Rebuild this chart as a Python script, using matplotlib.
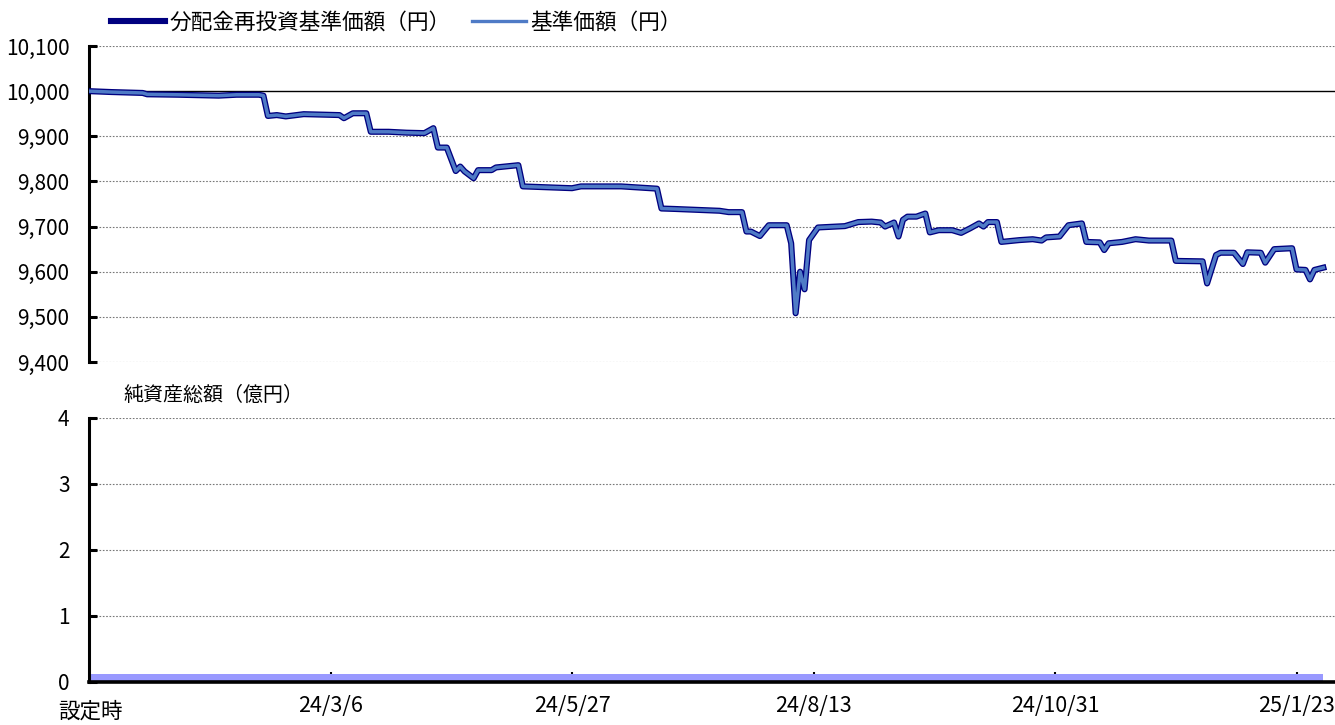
import matplotlib
matplotlib.use("Agg")
import matplotlib.pyplot as plt
from matplotlib.lines import Line2D

plt.rcParams["font.family"] = ["Noto Sans CJK JP", "DejaVu Sans"]

# 営業日インデックス（設定時=0）と基準価額の折れ点
day_idx = [0, 5, 12, 13, 20, 29, 33, 38, 39, 40, 42, 44, 48, 56, 57, 59, 62, 63,
           67, 71, 75, 77, 78, 80, 82, 83, 84, 86, 87, 90, 91, 96, 97, 108, 110,
           119, 127, 128, 131, 141, 143, 146, 147, 148, 150, 152, 156, 157, 158,
           159, 160, 161, 163, 169, 172, 175, 177, 178, 180, 181, 182, 183, 185,
           187, 188, 190, 193, 195, 197, 199, 200, 201, 203, 204, 208, 211, 213,
           214, 217, 219, 222, 223, 226, 227, 228, 231, 234, 237, 242, 243, 249,
           250, 252, 253, 256, 258, 259, 262, 263, 265, 269, 270, 272, 273, 274,
           276]
nav = [10000, 9998, 9996, 9993, 9992, 9990, 9992, 9992, 9990, 9945, 9947, 9944,
       9949, 9947, 9940, 9951, 9951, 9910, 9910, 9908, 9907, 9918, 9875, 9875,
       9823, 9833, 9822, 9807, 9825, 9825, 9831, 9836, 9789, 9785, 9789, 9789,
       9784, 9740, 9739, 9735, 9732, 9732, 9689, 9689, 9679, 9703, 9703, 9663,
       9508, 9600, 9561, 9670, 9698, 9701, 9710, 9711, 9709, 9700, 9709, 9678,
       9715, 9722, 9722, 9729, 9687, 9692, 9692, 9686, 9696, 9707, 9700, 9710,
       9710, 9666, 9670, 9672, 9669, 9676, 9678, 9703, 9707, 9666, 9665, 9648,
       9663, 9666, 9672, 9669, 9669, 9624, 9623, 9574, 9637, 9642, 9642, 9617,
       9643, 9642, 9620, 9650, 9652, 9605, 9604, 9583, 9604, 9609]
# 純資産総額（億円）
aum_idx = [0, 276]
aum = [0.12, 0.12]

tick_pos = [54, 108, 162, 216, 270]
tick_labels = ["24/3/6", "24/5/27", "24/8/13", "24/10/31", "25/1/23"]
x_max = 278.6

navy = "#000080"
blue = "#4F7BC6"
FS = 15

fig = plt.figure(figsize=(13.35, 7.25), dpi=100)
ax1 = fig.add_axes([89 / 1335, 1 - 362 / 725, 1 - 89 / 1335, 316 / 725])
ax2 = fig.add_axes([89 / 1335, 1 - 682 / 725, 1 - 89 / 1335, 264 / 725])

# 上段：基準価額
ax1.plot(day_idx, nav, color=navy, lw=4.4, solid_joinstyle="round", zorder=3)
ax1.plot(day_idx, nav, color=blue, lw=2.5, solid_joinstyle="round", zorder=4)
ax1.set_xlim(0, x_max)
ax1.set_ylim(9400, 10100)
ax1.set_yticks(range(9400, 10101, 100))
ax1.set_yticklabels([f"{v:,}" for v in range(9400, 10101, 100)])
for v in range(9400, 10101, 100):
    if v == 10000:
        ax1.axhline(v, color="black", lw=1.0, zorder=1)
    else:
        ax1.axhline(v, color="#777777", lw=0.8, ls=(0, (1.5, 1.5)), zorder=1)
ax1.set_xticks([])
for s in ["top", "right", "bottom"]:
    ax1.spines[s].set_visible(False)
ax1.spines["left"].set_linewidth(2.2)
ax1.tick_params(axis="y", direction="in", length=6, width=2.2, labelsize=FS, pad=14)

# 下段：純資産総額
ax2.fill_between(aum_idx, 0, aum, color="#9999FF", lw=0, zorder=2)
ax2.set_xlim(0, x_max)
ax2.set_ylim(0, 4)
ax2.set_yticks([0, 1, 2, 3, 4])
for v in [1, 2, 3, 4]:
    ax2.axhline(v, color="#777777", lw=0.8, ls=(0, (1.5, 1.5)), zorder=1)
ax2.set_xticks(tick_pos)
ax2.set_xticklabels(tick_labels)
for s in ["top", "right"]:
    ax2.spines[s].set_visible(False)
ax2.spines["left"].set_linewidth(2.2)
ax2.spines["bottom"].set_linewidth(2.6)
ax2.spines["bottom"].set_zorder(5)
ax2.tick_params(axis="y", direction="in", length=6, width=2.2, labelsize=FS, pad=14)
ax2.tick_params(axis="x", direction="in", length=7, width=1.5, labelsize=15.5, pad=9)
fig.text(90 / 1335, 1 - 723 / 725, "設定時", ha="center", va="bottom", fontsize=15.5)

fig.text(123 / 1335, 1 - 395 / 725, "純資産総額（億円）", fontsize=14.4, va="center")

handles = [Line2D([], [], color=navy, lw=4.4),
           Line2D([], [], color=blue, lw=2.4)]
fig.legend(handles, ["分配金再投資基準価額（円）", "基準価額（円）"], ncol=2,
           loc="center left", bbox_to_anchor=(111 / 1335, 1 - 23 / 725),
           frameon=False, fontsize=15.6, handlelength=2.5, handletextpad=0.18,
           columnspacing=1.0, borderpad=0, borderaxespad=0)

fig.savefig("out.png", dpi=100)
